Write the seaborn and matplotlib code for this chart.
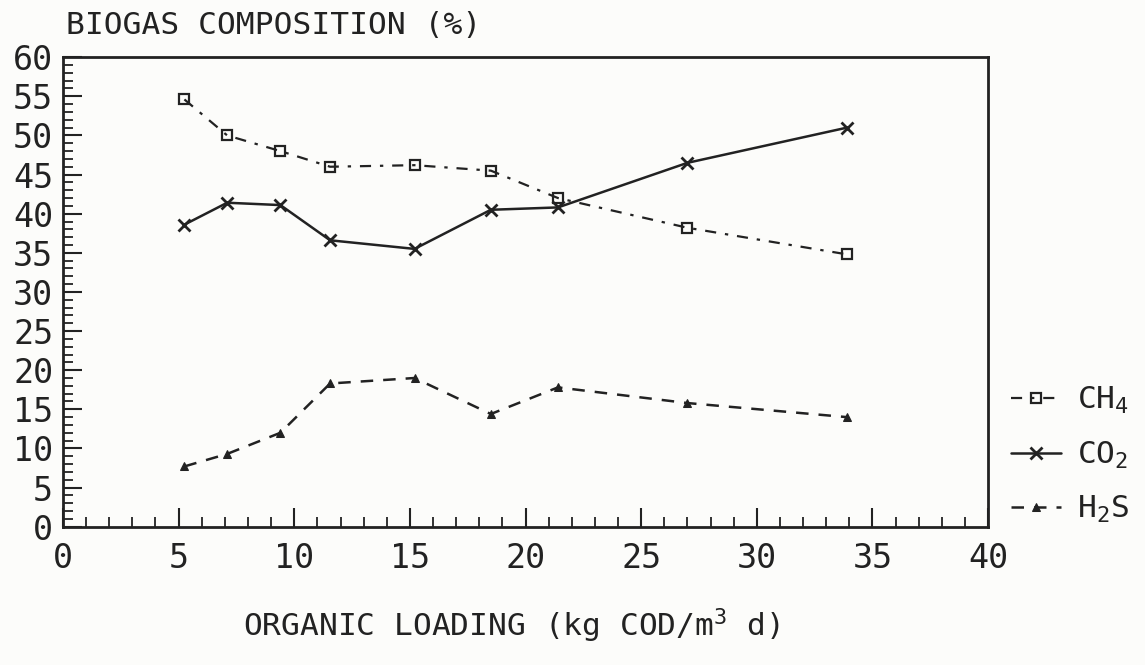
import numpy as np
import pandas as pd
import matplotlib
matplotlib.use("Agg")
import matplotlib.pyplot as plt
import seaborn as sns
from matplotlib.ticker import MultipleLocator

# organic loading (kg COD/m3 d)
loading = [5.25, 7.1, 9.4, 11.55, 15.2, 18.5, 21.4, 27.0, 33.9]
# biogas composition (%)
ch4 = [54.6, 50.0, 48.0, 46.0, 46.2, 45.5, 42.0, 38.2, 34.8]
co2 = [38.6, 41.4, 41.1, 36.6, 35.5, 40.5, 40.8, 46.5, 51.0]
h2s = [7.7, 9.3, 12.0, 18.3, 19.0, 14.4, 17.8, 15.8, 14.0]

x_ticks = [0, 5, 10, 15, 20, 25, 30, 35, 40]
y_ticks = [0, 5, 10, 15, 20, 25, 30, 35, 40, 45, 50, 55, 60]

sns.set_style("ticks")
# plotter style lettering -> monospace
plt.rcParams['font.family'] = ['DejaVu Sans Mono']
plt.rcParams['mathtext.default'] = 'regular'
plt.rcParams['mathtext.fontset'] = 'custom'
plt.rcParams['mathtext.rm'] = 'DejaVu Sans Mono'
ink = '#222222'

df = pd.DataFrame({'loading': loading, 'CH4': ch4, 'CO2': co2, 'H2S': h2s})

fig = plt.figure(figsize=(11.45, 6.65), dpi=100, facecolor='#fcfcfa')
ax = fig.add_axes([0.055, 0.208, 0.808, 0.706])
ax.set_facecolor('#fcfcfa')

sns.lineplot(data=df, x='loading', y='CH4', ax=ax, color=ink, lw=1.6,
             linestyle=(0, (5, 4, 1.5, 4)), marker='s', markersize=7,
             markerfacecolor='none', markeredgecolor=ink, markeredgewidth=1.6,
             label=r'CH$_4$')
sns.lineplot(data=df, x='loading', y='CO2', ax=ax, color=ink, lw=1.8,
             marker='x', markersize=9, markeredgewidth=2,
             markeredgecolor=ink, label=r'CO$_2$')
sns.lineplot(data=df, x='loading', y='H2S', ax=ax, color=ink, lw=1.8,
             linestyle=(0, (5, 4)), marker='^', markersize=6,
             markerfacecolor=ink, markeredgecolor=ink, label=r'H$_2$S')

ax.set_xlim(0, 40)
ax.set_ylim(0, 60)
ax.set_xticks(x_ticks)
ax.set_yticks(y_ticks)
ax.xaxis.set_minor_locator(MultipleLocator(1))
ax.yaxis.set_minor_locator(MultipleLocator(1))
ax.tick_params(which='major', direction='in', length=14, width=1.5, color=ink,
               labelsize=24, labelcolor=ink)
ax.tick_params(which='minor', direction='in', length=7, width=1.3, color=ink)
ax.tick_params(axis='x', pad=11)
ax.tick_params(axis='y', pad=7)
for s in ax.spines.values():
    s.set_visible(True)
    s.set_linewidth(2)
    s.set_color(ink)
ax.set_xlabel('')
ax.set_ylabel('')

fig.text(0.058, 0.961, 'BIOGAS COMPOSITION (%)', ha='left', va='center',
         fontsize=22.5, color=ink)
fig.text(0.447, 0.059, r'ORGANIC LOADING (kg COD/m$^3$ d)', ha='center',
         va='center', fontsize=22.5, color=ink)

leg = ax.legend(loc='upper left', bbox_to_anchor=(0.872, 0.44),
                bbox_transform=fig.transFigure, frameon=False, fontsize=22.5,
                handlelength=1.6, handletextpad=0.5, labelspacing=0.75,
                borderaxespad=0)
for t in leg.get_texts():
    t.set_color(ink)

fig.savefig('out.png', dpi=100, facecolor=fig.get_facecolor())
